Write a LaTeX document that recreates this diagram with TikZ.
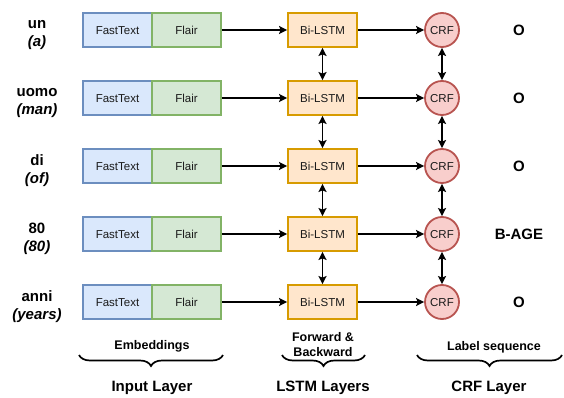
\documentclass[tikz,border=0pt]{standalone}
\usepackage{fontspec}
\setmainfont{Liberation Sans}
\usetikzlibrary{arrows.meta,decorations.pathreplacing}

\definecolor{ftfill}{HTML}{DAE8FC}
\definecolor{ftline}{HTML}{6C8EBF}
\definecolor{flfill}{HTML}{D5E8D4}
\definecolor{flline}{HTML}{82B366}
\definecolor{lsfill}{HTML}{FFE6CC}
\definecolor{lsline}{HTML}{D79B00}
\definecolor{crffill}{HTML}{F8CECC}
\definecolor{crfline}{HTML}{B85450}
\definecolor{ink}{HTML}{1A1A1A}

\tikzset{
  boxbase/.style={draw, line width=1.8pt, minimum width=69pt, minimum height=34pt,
    inner sep=0pt, text=ink, text height=8.2pt, text depth=0pt,
    font=\fontsize{11.5}{13}\selectfont},
  ftbox/.style={boxbase, fill=ftfill, draw=ftline},
  flbox/.style={boxbase, fill=flfill, draw=flline},
  lstmbox/.style={boxbase, fill=lsfill, draw=lsline},
  crfnode/.style={circle, draw=crfline, fill=crffill, line width=1.8pt,
    minimum size=34pt, inner sep=0pt, text=ink, text height=8.2pt, text depth=0pt,
    font=\fontsize{11.5}{13}\selectfont},
  word/.style={align=center, font=\bfseries\fontsize{15}{18}\selectfont},
  tag/.style={font=\bfseries\fontsize{15}{18}\selectfont},
  note/.style={align=center, font=\bfseries\fontsize{12.5}{15}\selectfont},
  layer/.style={font=\bfseries\fontsize{15}{18}\selectfont},
  flow/.style={line width=1.7pt, -{Stealth[length=8pt,width=8pt,inset=1.5pt]}},
  link/.style={line width=1.7pt,
    {Stealth[length=8pt,width=8pt,inset=1.5pt]}-{Stealth[length=8pt,width=8pt,inset=1.5pt]}},
  bracket/.style={line width=1.7pt, decorate,
    decoration={brace, mirror, amplitude=11pt}},
}

\begin{document}
\begin{tikzpicture}[x=1pt, y=-1pt]
\useasboundingbox (0,0) rectangle (564,398);

% one row per token: word, embeddings, Bi-LSTM, CRF, tag
\foreach \i/\w/\g/\t in {1/un/a/O, 2/uomo/man/O, 3/di/of/O, 4/80/80/B-AGE, 5/anni/years/O}{
  \pgfmathsetmacro{\yy}{30+68*(\i-1)}
  \node[word] (w\i) at (37,\yy+5) {\w\\[0pt]\textit{(\g)}};
  \node[ftbox] (ft\i) at (117.5,\yy) {FastText};
  \node[flbox] (fl\i) at (186.5,\yy) {Flair};
  \node[lstmbox] (ls\i) at (322.5,\yy) {Bi-LSTM};
  \node[crfnode] (crf\i) at (442,\yy) {CRF};
  \node[tag] (tag\i) at (519,\yy) {\t};
  \draw[flow] (fl\i) -- (ls\i);
  \draw[flow] (ls\i) -- (crf\i);
}

% recurrent links between consecutive time steps
\foreach \i [evaluate=\i as \j using int(\i+1)] in {1,2,3,4}{
  \draw[link] (ls\i) -- (ls\j);
  \draw[link] (crf\i) -- (crf\j);
}

% layer captions
\node[note] (emb) at (152,346) {Embeddings};
\coordinate (embL) at (79,355);
\coordinate (embR) at (223,355);
\draw[bracket] (embL) -- (embR);
\node[layer] (inlayer) at (152,388) {Input Layer};

\node[note] (fb) at (323,345) {Forward \&\\Backward};
\coordinate (lsL) at (282,355);
\coordinate (lsR) at (365,355);
\draw[bracket] (lsL) -- (lsR);
\node[layer] (lslayer) at (323,388) {LSTM Layers};

\node[note] (seq) at (494,347) {Label sequence};
\coordinate (crfL) at (417,355);
\coordinate (crfR) at (562,355);
\draw[bracket] (crfL) -- (crfR);
\node[layer] (crflayer) at (489,388) {CRF Layer};
\end{tikzpicture}
\end{document}
